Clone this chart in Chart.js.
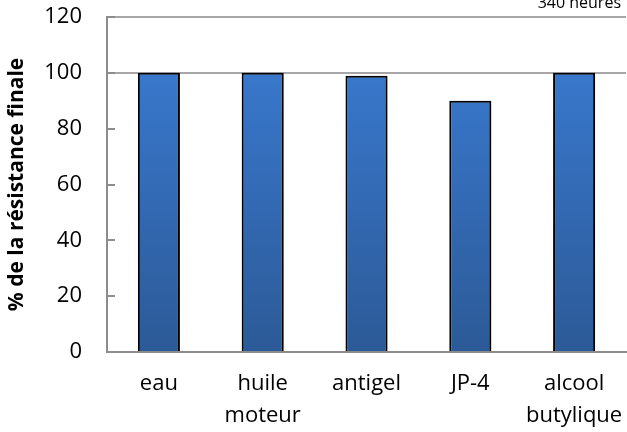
<!DOCTYPE html>
<html>
<head>
<meta charset="utf-8">
<script src="https://cdn.jsdelivr.net/npm/chart.js"></script>
<style>
  html, body { margin: 0; padding: 0; background: #fff; }
  #wrap { width: 627px; height: 432px; position: relative; }
</style>
</head>
<body>
<div id="wrap"><canvas id="c"></canvas></div>
<script>
const categories = ['eau', ['huile', 'moteur'], 'antigel', 'JP-4', ['alcool', 'butylique']];
const values = [100, 100, 99, 90, 100];
const yTicks = { min: 0, max: 120, step: 20 };
const yTitle = '% de la résistance finale';
const cornerNote = '340 heures';

const FONT = "'Open Sans', sans-serif";

const cornerNotePlugin = {
  id: 'cornerNote',
  afterDraw(chart) {
    const ctx = chart.ctx;
    ctx.save();
    ctx.font = "16px " + FONT;
    ctx.fillStyle = '#000';
    ctx.textAlign = 'right';
    ctx.textBaseline = 'alphabetic';
    ctx.fillText(cornerNote, chart.chartArea.right - 5, 8);
    ctx.restore();
  }
};

// short tick marks drawn inside the plot area, at the y scale's own tick positions
const innerTicksPlugin = {
  id: 'innerTicks',
  beforeDatasetsDraw(chart) {
    const scale = chart.scales.y;
    const ctx = chart.ctx;
    const left = chart.chartArea.left;
    ctx.save();
    ctx.strokeStyle = '#8c8c8c';
    ctx.lineWidth = 2;
    scale.ticks.forEach((t) => {
      const y = Math.round(scale.getPixelForValue(t.value));
      ctx.beginPath();
      ctx.moveTo(left, y);
      ctx.lineTo(left + 8, y);
      ctx.stroke();
    });
    ctx.restore();
  }
};

const shadowPlugin = {
  id: 'barShadow',
  beforeDatasetsDraw(chart) {
    const ctx = chart.ctx;
    ctx.save();
    ctx.shadowColor = 'rgba(0,0,0,0.3)';
    ctx.shadowBlur = 4;
    ctx.shadowOffsetX = 2;
    ctx.shadowOffsetY = 1;
  },
  afterDatasetsDraw(chart) {
    chart.ctx.restore();
  }
};

function barGradient(context) {
  const chart = context.chart;
  const area = chart.chartArea;
  if (!area) return '#3a78c8';
  const g = chart.ctx.createLinearGradient(0, area.top, 0, area.bottom);
  g.addColorStop(0, '#3b7dd6');
  g.addColorStop(1, '#2c5a97');
  return g;
}

function zeroPadding(scale) {
  scale.paddingTop = 0;
  scale.paddingBottom = 0;
  scale.paddingLeft = 0;
  scale.paddingRight = 0;
}

new Chart(document.getElementById('c'), {
  type: 'bar',
  data: {
    labels: categories,
    datasets: [{
      data: values,
      backgroundColor: barGradient,
      borderColor: '#000',
      borderWidth: 2,
      barPercentage: 0.405,
      categoryPercentage: 1.0
    }]
  },
  options: {
    responsive: true,
    maintainAspectRatio: false,
    animation: false,
    layout: { autoPadding: false, padding: { top: 17, right: 1, left: 4, bottom: 0 } },
    plugins: {
      legend: { display: false },
      tooltip: { enabled: false },
      title: { display: false }
    },
    scales: {
      x: {
        afterFit: (scale) => { scale.height = 80; zeroPadding(scale); },
        grid: { display: false, drawTicks: false },
        border: { display: true, color: '#8c8c8c', width: 2 },
        ticks: {
          color: '#000',
          font: { family: FONT, size: 22, lineHeight: '32px' },
          padding: 16,
          maxRotation: 0,
          autoSkip: false
        }
      },
      y: {
        min: yTicks.min,
        max: yTicks.max,
        afterFit: (scale) => { scale.width = 103; zeroPadding(scale); },
        border: { display: true, color: '#8c8c8c', width: 2 },
        grid: {
          color: (ctx) => (ctx.tick && ctx.tick.value >= 100 ? '#a6a6a6' : 'rgba(0,0,0,0)'),
          lineWidth: 2,
          drawTicks: false
        },
        ticks: {
          stepSize: yTicks.step,
          color: '#000',
          font: { family: FONT, size: 22 },
          padding: 25
        },
        title: {
          display: true,
          text: yTitle,
          color: '#000',
          font: { family: FONT, size: 21, weight: 'bold' },
          padding: { top: 0, bottom: 14 }
        }
      }
    }
  },
  plugins: [innerTicksPlugin, shadowPlugin, cornerNotePlugin]
});
</script>
</body>
</html>
